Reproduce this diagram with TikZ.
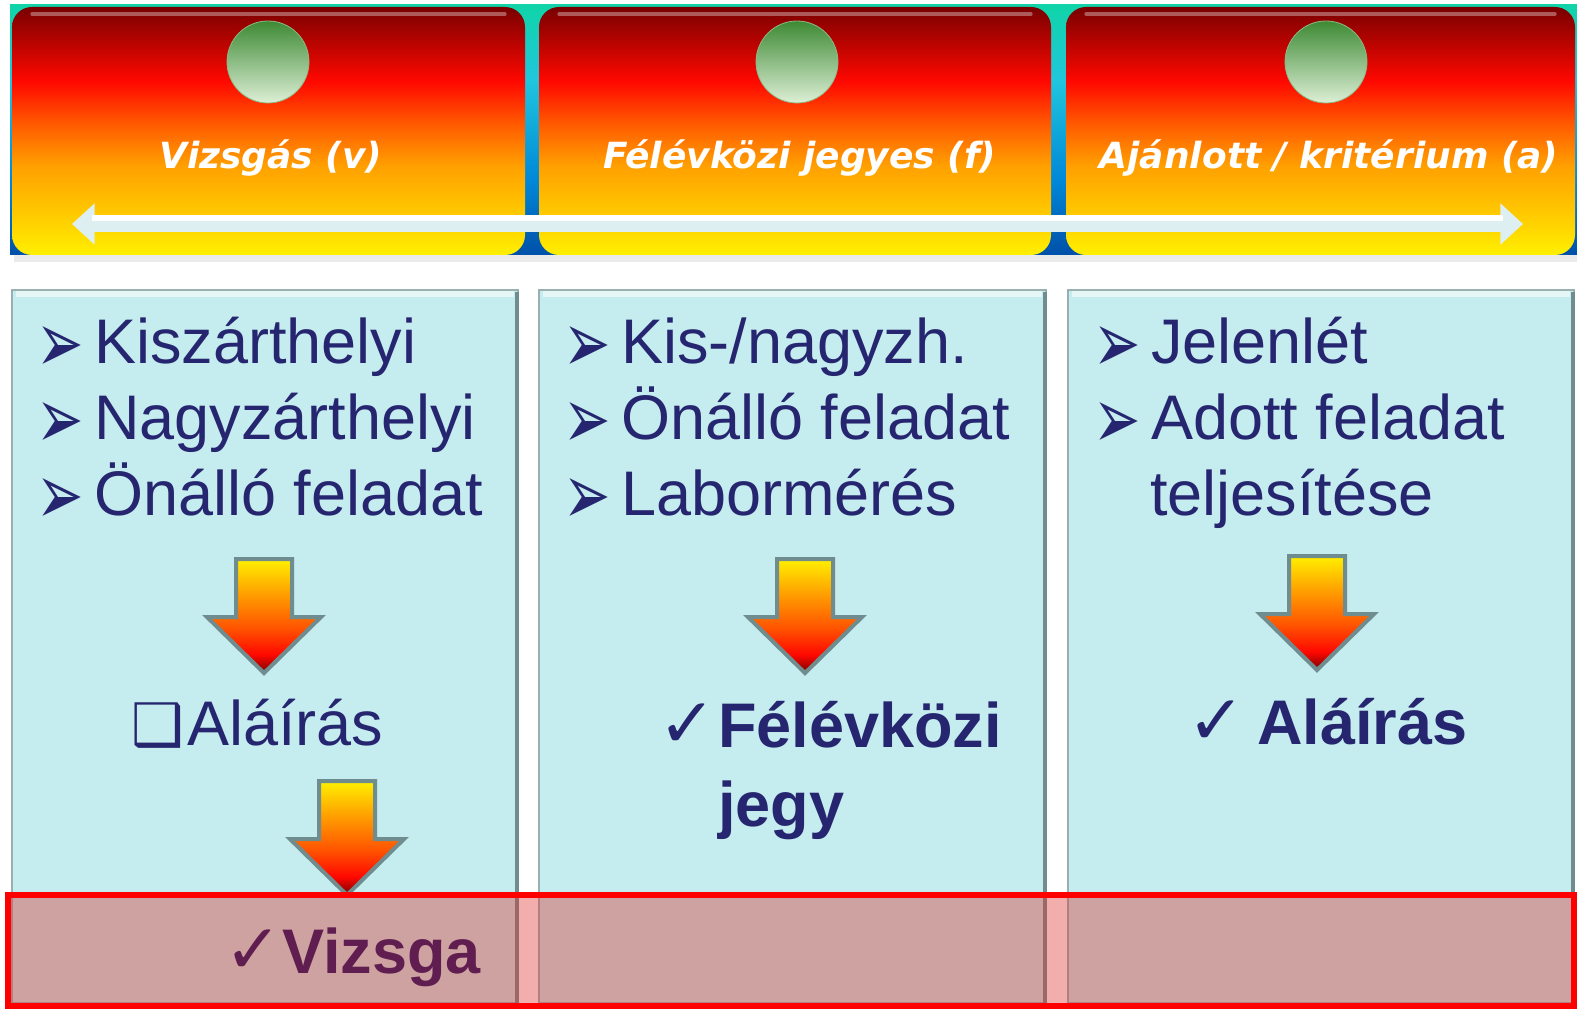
\documentclass[tikz,border=0pt]{standalone}
\usepackage{fontspec}
\setmainfont{Liberation Sans}
\newfontfamily\headfont{DejaVu Sans}
\newfontfamily\symbfont{DejaVu Sans}
\usetikzlibrary{positioning}
\usetikzlibrary{arrows.meta}

\definecolor{navy}{HTML}{262670}
\definecolor{plum}{HTML}{601E50}
\definecolor{boxcyan}{HTML}{C5ECEE}
\definecolor{bevel}{HTML}{6F8C8E}
\definecolor{examred}{HTML}{DE3432}
\definecolor{hotY}{HTML}{FFF000}
\definecolor{hotY2}{HTML}{FFD800}
\definecolor{hotO}{HTML}{FFA000}
\definecolor{hotO2}{HTML}{FF5500}
\definecolor{hotR}{HTML}{FF0800}
\definecolor{hotD}{HTML}{780000}
\definecolor{bandT}{HTML}{10D4A8}
\definecolor{bandC}{HTML}{20C6DC}
\definecolor{bandM}{HTML}{0088D8}
\definecolor{bandB}{HTML}{0050A8}
\definecolor{ballT}{HTML}{3E8A34}
\definecolor{ballB}{HTML}{DDEFD6}
\definecolor{shaft}{HTML}{DDEFF1}

\pgfdeclareverticalshading{hotbox}{100bp}{color(0bp)=(hotY); color(25bp)=(hotY); color(30bp)=(hotY2); color(43bp)=(hotO); color(52bp)=(hotO2); color(60bp)=(hotR); color(75bp)=(hotD); color(100bp)=(hotD)}
\pgfdeclareverticalshading{hotarrow}{100bp}{color(0bp)=(hotD); color(25bp)=(hotD); color(33bp)=(hotR); color(45bp)=(hotO2); color(60bp)=(hotO); color(75bp)=(hotY); color(100bp)=(hotY)}
\pgfdeclareverticalshading{band}{100bp}{color(0bp)=(bandB); color(25bp)=(bandB); color(40bp)=(bandM); color(60bp)=(bandC); color(75bp)=(bandT); color(100bp)=(bandT)}

\newcommand\bodysize{\fontsize{47.25}{56}\selectfont}
\newcommand\blt{\makebox[43.5pt][l]{\smash{\raisebox{-7pt}{\scalebox{1.25}[1.9]{\symbfont\fontsize{34}{34}\selectfont ➢}}}}}

\tikzset{
  downarrow/.pic={
    \shadedraw[shading=hotarrow, draw=bevel, line width=3pt, line join=miter]
      (-28,0) -- (28,0) -- (28,58) -- (57,58) -- (0,114) -- (-57,58) -- (-28,58) -- cycle;
  }
}

\begin{document}
\begin{tikzpicture}[x=0.75pt, y=-0.75pt,
    item/.style={anchor=base west, inner sep=0pt, text=navy, font=\bodysize},
    res/.style={item, font=\bodysize\bfseries},
    tick/.style={anchor=base west, inner sep=0pt, text=navy, font=\symbfont\fontsize{52}{52}\selectfont},
    title/.style={anchor=base, inner sep=0pt, text=white, font=\headfont\bfseries\itshape\fontsize{27}{27}\selectfont},
    ball/.style={circle, minimum size=61.5pt, inner sep=0pt, top color=ballT, bottom color=ballB, draw=ballT!60!white, line width=0.6pt},
    colbox/.style={fill=boxcyan, draw=bevel!70, line width=1.5pt},
    examband/.style={fill=examred, fill opacity=0.4, draw=red, line width=4.5pt}]
  \useasboundingbox (0,0) rectangle (1577,1009);

  % header band and boxes
  \shade[shading=band] (10,5) rectangle (1577,255);
  \fill[black!8] (14,255) rectangle (1577,262);
  \foreach \l/\r in {12/525, 539/1051, 1066/1575} {
    \shade[shading=hotbox, rounded corners=15pt] (\l,7) rectangle (\r,255);
    \draw[white, opacity=0.35, line width=2.5pt, line cap=round] (\l+20,14) -- (\r-20,14);
  }
  \node[ball] (vball) at (268,62) {};
  \node[ball] (fball) at (797,62) {};
  \node[ball] (aball) at (1326,62) {};
  \node[title] (vtitle) at (271,169) {Vizsgás (v)};
  \node[title] (ftitle) at (800,169) {Félévközi jegyes (f)};
  \node[title] (atitle) at (1329,169) {Ajánlott / kritérium (a)};
  \coordinate (lend) at (72,224);
  \coordinate (rend) at (1523,224);
  \draw[shaft, line width=12pt, {Triangle[width=30pt,length=17pt]}-{Triangle[width=30pt,length=17pt]}] (lend) -- (rend);
  \draw[white, line width=4pt] (92,218) -- (1503,218);

  % columns
  \foreach \l/\r in {12/518, 539/1046, 1068/1574} {
    \path[colbox] (\l,290) rectangle (\r,1003);
    \draw[bevel, line width=2.5pt] (\r-1,292) -- (\r-1,1003);
    \draw[white!55!boxcyan, line width=4pt] (\l+4,294) -- (\r-4,294);
  }

  % Vizsgás
  \node[item] (v1) at (36,363) {\blt Kiszárthelyi};
  \node[item] (v2) at (36,439) {\blt Nagyzárthelyi};
  \node[item] (v3) at (36,515) {\blt Önálló feladat};
  \pic at (264,559) {downarrow};
  \node[tick, font=\symbfont\fontsize{44}{44}\selectfont] (vbox) at (131,745) {❑};
  \node[item] (vsign) at (187,745) {Aláírás};
  \pic at (347,781) {downarrow};

  % Félévközi
  \node[item] (f1) at (563,363) {\blt Kis-/nagyzh.};
  \node[item] (f2) at (563,439) {\blt Önálló feladat};
  \node[item] (f3) at (563,515) {\blt Labormérés};
  \pic at (805,559) {downarrow};
  \node[tick] (fchk) at (658,747) {✓};
  \node[res] (fgrade) at (718,747) {Félévközi};
  \node[res] (fjegy) at (718,826) {jegy};

  % Ajánlott
  \node[item] (a1) at (1093,363) {\blt Jelenlét};
  \node[item] (a2) at (1093,439) {\blt Adott feladat};
  \node[item] (a3) at (1150,515) {teljesítése};
  \pic at (1317,556) {downarrow};
  \node[tick] (achk) at (1187,744) {✓};
  \node[res] (asign) at (1257,744) {Aláírás};

  % exam row
  \path[examband] (8,895) rectangle (1574,1006);
  \node[tick, text=plum] (vchk) at (224,973) {✓};
  \node[res, text=plum] (exam) at (282,973) {Vizsga};
\end{tikzpicture}
\end{document}
